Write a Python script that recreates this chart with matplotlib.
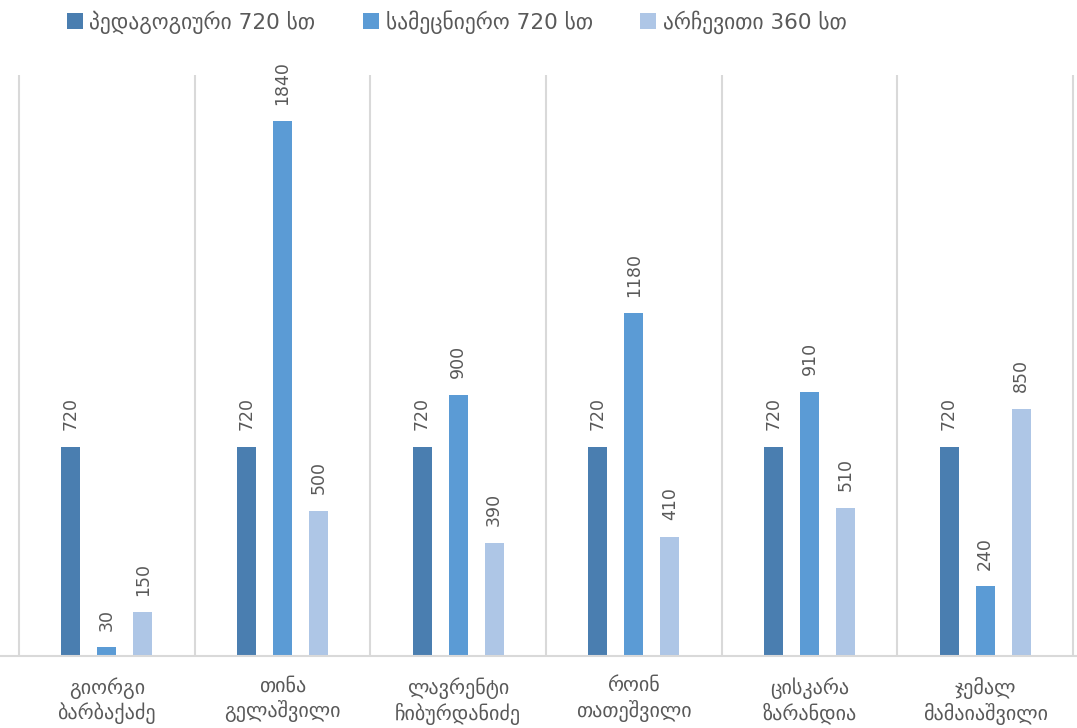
import numpy as np
import matplotlib.pyplot as plt

# მონაცემები
saxelebi = ["გიორგი\nბარბაქაძე", "თინა\nგელაშვილი", "ლავრენტი\nჩიბურდანიძე",
            "როინ\nთათეშვილი", "ცისკარა\nზარანდია", "ჯემალ\nმამაიაშვილი"]
pedagogiuri = [720, 720, 720, 720, 720, 720]
samecniero = [30, 1840, 900, 1180, 910, 240]
archeviti = [150, 500, 390, 410, 510, 850]
seriebi = ["პედაგოგიური 720 სთ", "სამეცნიერო 720 სთ", "არჩევითი 360 სთ"]
ferebi = ["#4a7eb0", "#5b9bd5", "#aec6e6"]

plt.rcParams['font.family'] = ['DejaVu Sans']
tekstis_feri = "#595959"

fig = plt.figure(figsize=(10.77, 7.28), dpi=100)
ax = fig.add_axes([0, 72 / 728, 1, 581 / 728])

x = np.arange(len(saxelebi))
w = 0.108
gap = 0.205
for i, (vals, name, c) in enumerate(zip([pedagogiuri, samecniero, archeviti], seriebi, ferebi)):
    bars = ax.bar(x + (i - 1) * gap, vals, w, color=c, label=name, zorder=3)
    for b, v in zip(bars, vals):
        ax.annotate(str(v), (b.get_x() + b.get_width() / 2, v), xytext=(0, 12),
                    textcoords="offset points", rotation=90, ha="center", va="bottom",
                    fontsize=12.5, color=tekstis_feri)

ax.set_xlim(-0.608, 5.523)
ax.set_ylim(0, 2000)
for b in np.arange(-0.5, 6.0, 1.0):
    ax.axvline(b, color="#d9d9d9", lw=1.5, zorder=1)
ax.axhline(0, color="#d9d9d9", lw=1.5, zorder=4, clip_on=False)

ax.set_xticks(x)
ax.set_xticklabels(saxelebi, fontsize=14.5, color=tekstis_feri, linespacing=1.25)
ax.tick_params(axis="x", length=0, pad=15)
ax.set_yticks([])
for s in ax.spines.values():
    s.set_visible(False)

fig.legend(loc="center", bbox_to_anchor=(0.424, 1 - 22 / 728), ncol=3, frameon=False,
           fontsize=15.5, handlelength=0.75, handleheight=0.75, handletextpad=0.3,
           columnspacing=2.2, labelcolor=tekstis_feri)

plt.savefig("out.png", dpi=100)
